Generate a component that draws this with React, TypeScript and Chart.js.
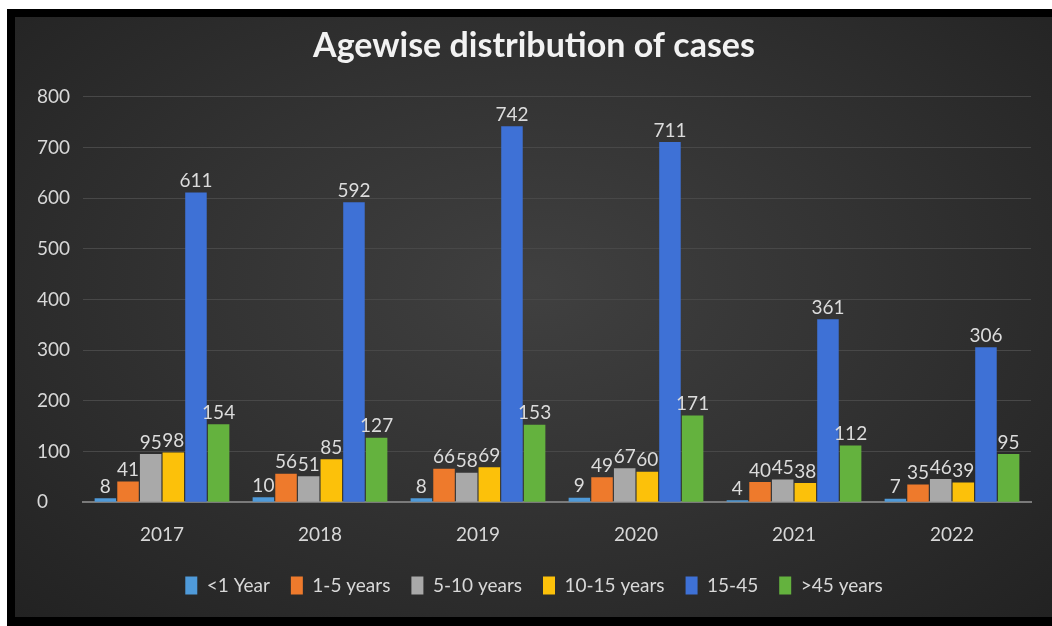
import React, { useEffect, useRef } from "react";
import { Chart, registerables } from "chart.js";

Chart.register(...registerables);

const years = ["2017", "2018", "2019", "2020", "2021", "2022"];
const seriesNames = ["<1 Year", "1-5 years", "5-10 years", "10-15 years", "15-45", ">45 years"];
const lessThan1 = [8, 10, 8, 9, 4, 7];
const age1to5 = [41, 56, 66, 49, 40, 35];
const age5to10 = [95, 51, 58, 67, 45, 46];
const age10to15 = [98, 85, 69, 60, 38, 39];
const age15to45 = [611, 592, 742, 711, 361, 306];
const over45 = [154, 127, 153, 171, 112, 95];
const seriesColors = ["#4f9ad9", "#ee7a2c", "#a9a9a9", "#fcc10a", "#3e71d6", "#64b23e"];
const yTicks = [0, 100, 200, 300, 400, 500, 600, 700, 800];

const FONT = "Lato, 'DejaVu Sans Condensed', sans-serif";

const valueLabels = {
  id: "valueLabels",
  afterDatasetsDraw(chart: any) {
    const ctx = chart.ctx;
    ctx.save();
    ctx.font = `19px ${FONT}`;
    ctx.fillStyle = "#dcdcdc";
    ctx.textAlign = "center";
    ctx.textBaseline = "bottom";
    chart.data.datasets.forEach((ds: any, i: number) => {
      const meta = chart.getDatasetMeta(i);
      meta.data.forEach((bar: any, j: number) => {
        ctx.fillText(String(ds.data[j]), bar.x, bar.y - 2);
      });
    });
    ctx.restore();
  },
};

export default function App() {
  const ref = useRef<HTMLCanvasElement>(null);
  useEffect(() => {
    if (!ref.current) return;
    const allSeries = [lessThan1, age1to5, age5to10, age10to15, age15to45, over45];
    const chart = new Chart(ref.current, {
      type: "bar",
      data: {
        labels: years,
        datasets: allSeries.map((d, i) => ({
          label: seriesNames[i],
          data: d,
          backgroundColor: seriesColors[i],
          borderWidth: 0,
          categoryPercentage: 0.86,
          barPercentage: 0.95,
        })),
      },
      options: {
        responsive: false,
        animation: false,
        layout: { padding: { left: 22, right: 21, top: 0, bottom: 12 } },
        plugins: {
          title: {
            display: true,
            text: "Agewise distribution of cases",
            color: "#f2f2f2",
            font: { family: FONT, size: 34, weight: "bold" },
            padding: { top: 9, bottom: 30 },
          },
          legend: {
            position: "bottom",
            labels: {
              color: "#d8d8d8",
              font: { family: FONT, size: 19 },
              boxWidth: 12,
              boxHeight: 18,
              padding: 21,
            },
          },
          tooltip: { enabled: false },
        },
        scales: {
          x: {
            afterFit(scale: any) {
              scale.height -= 4;
            },
            grid: { display: false },
            border: { color: "#7a7a7a", width: 2 },
            ticks: { color: "#d8d8d8", font: { family: FONT, size: 19 }, padding: 13 },
          },
          y: {
            min: 0,
            max: 800,
            afterFit(scale: any) {
              scale.width = 46;
            },
            afterBuildTicks(scale: any) {
              scale.ticks = yTicks.map((v) => ({ value: v }));
            },
            grid: { color: "#484848", lineWidth: 1, drawTicks: false },
            border: { display: false },
            ticks: {
              color: "#d8d8d8",
              font: { family: FONT, size: 19 },
              crossAlign: "far",
              padding: 8,
            },
          },
        },
      },
      plugins: [valueLabels],
    });
    return () => chart.destroy();
  }, []);

  return (
    <div
      style={{
        position: "fixed",
        left: 7,
        top: 9,
        width: 1045,
        height: 617,
        boxSizing: "border-box",
        borderTop: "8px solid #000",
        borderLeft: "8px solid #000",
        borderBottom: "9px solid #000",
        background: "radial-gradient(ellipse at 50% 45%, #404040 0%, #333333 45%, #222222 100%)",
      }}
    >
      <canvas ref={ref} width={1037} height={600} style={{ display: "block" }} />
    </div>
  );
}
